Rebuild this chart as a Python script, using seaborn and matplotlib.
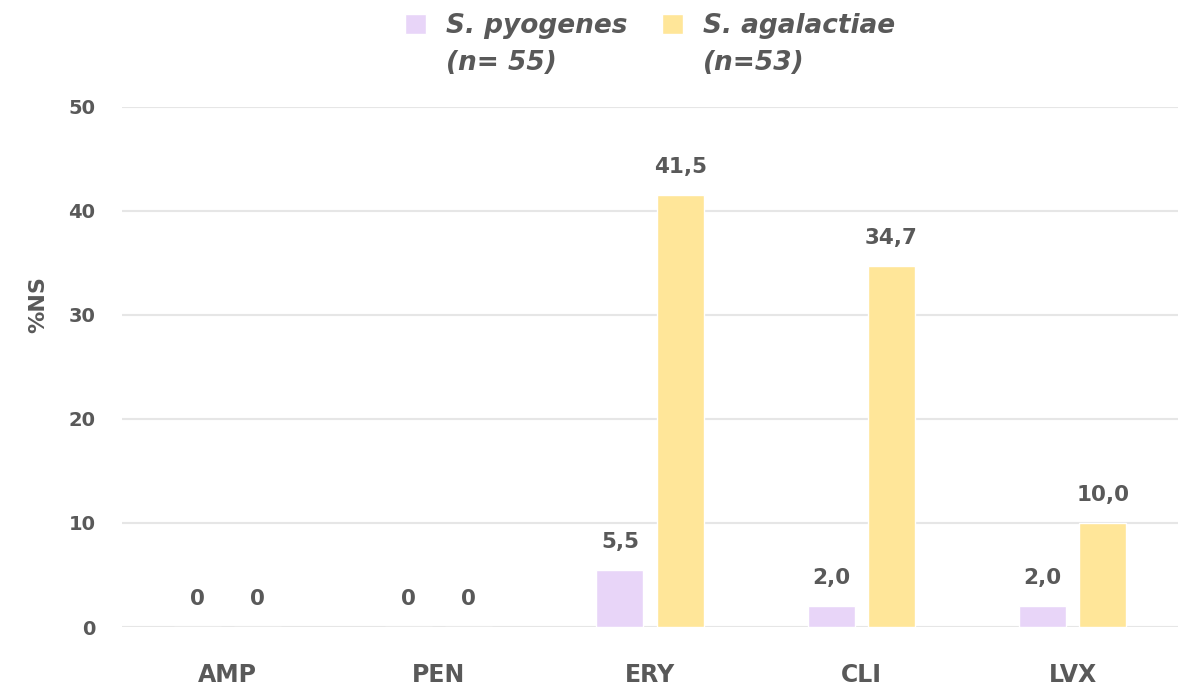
import matplotlib.pyplot as plt
import pandas as pd
import seaborn as sns

# Datos del gráfico
antibioticos = ["AMP", "PEN", "ERY", "CLI", "LVX"]
pyogenes = [0, 0, 5.5, 2.0, 2.0]
agalactiae = [0, 0, 41.5, 34.7, 10.0]
especies = ["S. pyogenes", "S. agalactiae"]
tamanos = ["(n= 55)", "(n=53)"]
colores = ["#E8D5F8", "#FFE699"]

df = pd.DataFrame({
    "Antibiotico": antibioticos * 2,
    "NS": pyogenes + agalactiae,
    "Especie": [especies[0]] * len(antibioticos) + [especies[1]] * len(antibioticos),
})

gris = "#595959"


def formato(v):
    return "0" if v == 0 else f"{v:.1f}".replace(".", ",")


sns.set_theme(style="white")
plt.rcParams["font.family"] = ["DejaVu Sans"]

fig = plt.figure(figsize=(11.83, 6.9), dpi=100)
ax = fig.add_axes([0.103, 0.0913, 0.893, 0.754])

sns.barplot(
    data=df,
    x="Antibiotico",
    y="NS",
    hue="Especie",
    palette=colores,
    width=0.57,
    gap=0.22,
    saturation=1,
    errorbar=None,
    ax=ax,
)

# Etiquetas de valores
for cont, vals in zip(ax.containers, [pyogenes, agalactiae]):
    ax.bar_label(cont, labels=[formato(v) for v in vals], padding=13,
                 fontsize=15.5, fontweight="bold", color=gris)

ax.set_ylim(0, 50)
ax.set_xlim(-0.5, 4.5)
ax.set_yticks(range(0, 51, 10))
ax.yaxis.grid(True, color="#E6E6E6", linewidth=1.5)
ax.set_axisbelow(True)
sns.despine(ax=ax, left=True, bottom=True)

ax.tick_params(axis="y", length=0, pad=19, labelsize=14, labelcolor=gris)
ax.tick_params(axis="x", length=0, pad=26, labelsize=17, labelcolor=gris)
for t in ax.get_xticklabels() + ax.get_yticklabels():
    t.set_fontweight("bold")

ax.set_xlabel("")
ax.set_ylabel("%NS", fontsize=16, fontweight="bold", color=gris)
ax.yaxis.set_label_coords(-0.07, 0.62)

# Leyenda: primera línea con el cuadro, segunda línea debajo
leg = ax.legend(
    loc="upper center",
    bbox_to_anchor=(0.5, 1.225),
    ncol=2,
    frameon=False,
    handlelength=0.8,
    handleheight=0.8,
    columnspacing=1.3,
    handletextpad=0.75,
    prop={"size": 19, "weight": "bold", "style": "italic"},
)
for t in leg.get_texts():
    t.set_color(gris)

fig.canvas.draw()
W, H = fig.canvas.get_width_height()
for t, n in zip(leg.get_texts(), tamanos):
    bb = t.get_window_extent()
    fig.text(bb.x0 / W, (bb.y0 - 11) / H, n, ha="left", va="top",
             fontsize=19, fontweight="bold", fontstyle="italic", color=gris)

plt.savefig("out.png", dpi=100)
plt.close()
